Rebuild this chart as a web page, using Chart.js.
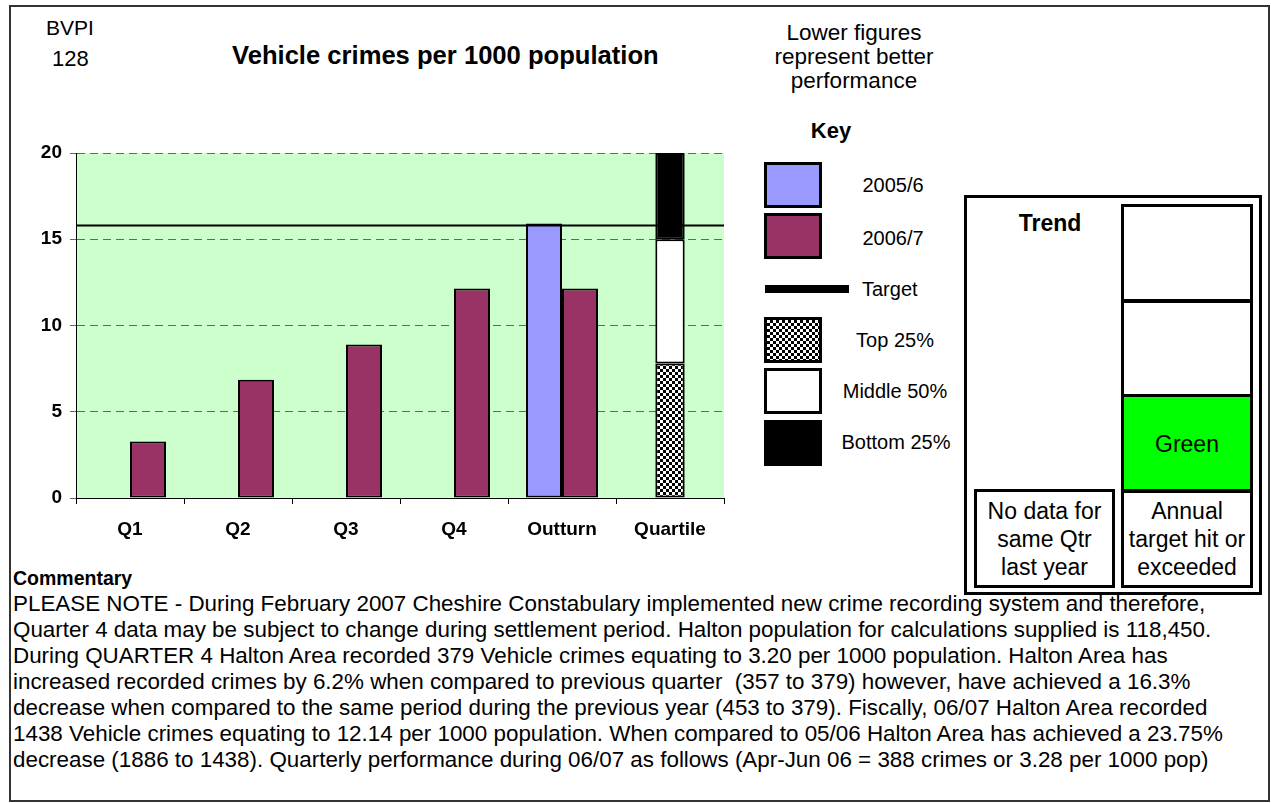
<!DOCTYPE html>
<html>
<head>
<meta charset="utf-8">
<script src="https://cdn.jsdelivr.net/npm/chart.js@4.4.1/dist/chart.umd.min.js"></script>
<style>
  body { margin: 0; background: #fff; font-family: "Liberation Sans", Arial, sans-serif; color: #000; }
  #page { position: relative; width: 1271px; height: 803px; overflow: hidden; }
  #frame { position: absolute; left: 9px; top: 5px; width: 1257px; height: 793px; border: 2px solid #333; }
  .abs { position: absolute; white-space: nowrap; }
  .ctr { text-align: center; }
  .lbl { font-size: 20px; line-height: 24px; }
  #chart-wrap { position: absolute; left: 0; top: 0; width: 740px; height: 560px; }
  .swatch { position: absolute; box-sizing: border-box; border: 3px solid #000; }
  .cell { position: absolute; box-sizing: border-box; border: 3px solid #000; display: flex; align-items: center; justify-content: center; text-align: center; font-size: 23px; line-height: 28px; }
  .comment { position: absolute; left: 13px; font-size: 22.4px; line-height: 26px; white-space: nowrap; }
</style>
</head>
<body>
<div id="page">
  <div id="frame"></div>

  <div class="abs" style="left:46px; top:16px; font-size:21px;">BVPI</div>
  <div class="abs" style="left:52px; top:46px; font-size:22px;">128</div>
  <div class="abs" style="left:232px; top:41px; font-size:25.6px; font-weight:bold;">Vehicle crimes per 1000 population</div>
  <div class="abs ctr" style="left:754px; top:21px; width:200px; font-size:22.5px; line-height:24px; white-space:normal;">Lower figures represent better performance</div>

  <div id="chart-wrap"><canvas id="vehicle-chart" width="740" height="560"></canvas></div>

  <!-- Key -->
  <div class="abs ctr" style="left:791px; top:118px; width:80px; font-size:22px; font-weight:bold;">Key</div>
  <div class="swatch" style="left:764px; top:162px; width:58px; height:46px; background:#9999FF;"></div>
  <div class="abs ctr lbl" style="left:840px; top:173px; width:106px;">2005/6</div>
  <div class="swatch" style="left:764px; top:213px; width:58px; height:46px; background:#993366;"></div>
  <div class="abs ctr lbl" style="left:840px; top:226px; width:106px;">2006/7</div>
  <div class="abs" style="left:765px; top:285px; width:84px; height:8px; background:#000;"></div>
  <div class="abs lbl" style="left:862px; top:277px;">Target</div>
  <div class="swatch" id="key-top" style="left:764px; top:317px; width:58px; height:46px;"></div>
  <div class="abs ctr lbl" style="left:840px; top:328px; width:110px;">Top 25%</div>
  <div class="swatch" style="left:764px; top:368px; width:58px; height:46px; background:#fff;"></div>
  <div class="abs ctr lbl" style="left:840px; top:379px; width:110px;">Middle 50%</div>
  <div class="swatch" style="left:764px; top:420px; width:58px; height:46px; background:#000;"></div>
  <div class="abs ctr lbl" style="left:841px; top:430px; width:110px;">Bottom 25%</div>

  <!-- Trend box -->
  <div class="abs" style="left:964px; top:195px; width:298px; height:400px; box-sizing:border-box; border:3px solid #000;"></div>
  <div class="abs ctr" style="left:990px; top:210px; width:120px; font-size:23px; font-weight:bold;">Trend</div>
  <div class="cell" style="left:1121px; top:204px; width:132px; height:99px;"></div>
  <div class="cell" style="left:1121px; top:299px; width:132px; height:99px;"></div>
  <div class="cell" style="left:1121px; top:394px; width:132px; height:99px; background:#00FF00;">Green</div>
  <div class="cell" style="left:1121px; top:489px; width:132px; height:99px;">Annual<br>target hit or<br>exceeded</div>
  <div class="cell" style="left:974px; top:489px; width:141px; height:99px;">No data for<br>same Qtr<br>last year</div>

  <!-- Commentary -->
  <div class="comment" style="top:565px; font-size:19.5px; font-weight:bold;">Commentary</div>
  <div class="comment" style="top:591px;">PLEASE NOTE - During February 2007 Cheshire Constabulary implemented new crime recording system and therefore,</div>
  <div class="comment" style="top:617px;">Quarter 4 data may be subject to change during settlement period. Halton population for calculations supplied is 118,450.</div>
  <div class="comment" style="top:643px;">During QUARTER 4 Halton Area recorded 379 Vehicle crimes equating to 3.20 per 1000 population. Halton Area has</div>
  <div class="comment" style="top:669px;">increased recorded crimes by 6.2% when compared to previous quarter&nbsp; (357 to 379) however, have achieved a 16.3%</div>
  <div class="comment" style="top:695px;">decrease when compared to the same period during the previous year (453 to 379). Fiscally, 06/07 Halton Area recorded</div>
  <div class="comment" style="top:721px;">1438 Vehicle crimes equating to 12.14 per 1000 population. When compared to 05/06 Halton Area has achieved a 23.75%</div>
  <div class="comment" style="top:747px;">decrease (1886 to 1438). Quarterly performance during 06/07 as follows (Apr-Jun 06 = 388 crimes or 3.28 per 1000 pop)</div>
</div>

<script>
// Chart data
const categories = ['Q1', 'Q2', 'Q3', 'Q4', 'Outturn', 'Quartile'];
const values0506 = [null, null, null, null, 15.92, null];
const values0607 = [3.28, 6.85, 8.9, 12.14, 12.14, null];
const targetValue = 15.8;
// quartile bands as [from, to] ranges, shown only in the last category
const quartileTop = [null, null, null, null, null, [0, 7.8]];
const quartileMiddle = [null, null, null, null, null, [7.8, 15]];
const quartileBottom = [null, null, null, null, null, [15, 20]];
const yTicks = [0, 5, 10, 15, 20];

// checkerboard fill for the top quartile
function makeChecker() {
    const c = document.createElement('canvas');
    c.width = 6;
    c.height = 6;
    const g = c.getContext('2d');
    g.fillStyle = '#000';
    g.fillRect(0, 0, 6, 6);
    g.fillStyle = '#fff';
    g.fillRect(0, 0, 3, 3);
    g.fillRect(3, 3, 3, 3);
    return c;
}
const checkerCanvas = makeChecker();
document.getElementById('key-top').style.background = `url(${checkerCanvas.toDataURL()})`;

const ctx = document.getElementById('vehicle-chart').getContext('2d');
const checker = ctx.createPattern(checkerCanvas, 'repeat');

// green plot background
const plotBackground = {
    id: 'plotBackground',
    beforeDraw(chart) {
        const { ctx, chartArea: a } = chart;
        ctx.save();
        ctx.fillStyle = '#CCFFCC';
        ctx.fillRect(a.left, a.top, a.right - a.left, a.bottom - a.top);
        ctx.restore();
    }
};

// target line across the plot
const targetLine = {
    id: 'targetLine',
    afterDatasetsDraw(chart) {
        const { ctx, chartArea: a, scales } = chart;
        const y = scales.y.getPixelForValue(targetValue);
        ctx.save();
        ctx.strokeStyle = '#000';
        ctx.lineWidth = 2;
        ctx.beginPath();
        ctx.moveTo(a.left, y);
        ctx.lineTo(a.right, y);
        ctx.stroke();
        ctx.restore();
    }
};

const barStyle = { borderColor: '#000', borderWidth: 2, borderSkipped: false };
const quartileStyle = { ...barStyle, grouped: false, barPercentage: 0.34 };
const axisFont = { family: 'Liberation Sans', size: 19, weight: 'bold' };

new Chart(ctx, {
    type: 'bar',
    data: {
        labels: categories,
        datasets: [
            { label: '2005/6', data: values0506, backgroundColor: '#9999FF', ...barStyle, categoryPercentage: 0.667, barPercentage: 1 },
            { label: '2006/7', data: values0607, backgroundColor: '#993366', ...barStyle, categoryPercentage: 0.667, barPercentage: 1 },
            { label: 'Top 25%', data: quartileTop, backgroundColor: checker, ...quartileStyle },
            { label: 'Middle 50%', data: quartileMiddle, backgroundColor: '#fff', ...quartileStyle },
            { label: 'Bottom 25%', data: quartileBottom, backgroundColor: '#000', ...quartileStyle }
        ]
    },
    options: {
        responsive: false,
        animation: false,
        layout: { padding: { left: 0, top: 153, right: 16, bottom: 0 } },
        plugins: {
            legend: { display: false },
            tooltip: { enabled: false }
        },
        scales: {
            x: {
                grid: { offset: true, drawOnChartArea: false, drawTicks: true, tickLength: 6, tickColor: '#000' },
                border: { display: true, color: '#000', width: 1 },
                ticks: { color: '#000', padding: 14, font: axisFont },
                afterFit: (scale) => { scale.height = 62; }
            },
            y: {
                min: 0,
                max: 20,
                afterBuildTicks: (scale) => { scale.ticks = yTicks.map(v => ({ value: v })); },
                grid: { color: '#666', tickLength: 6, tickColor: '#666', tickBorderDash: [] },
                border: { display: true, color: '#000', width: 1, dash: [8, 5] },
                ticks: { color: '#000', padding: 8, font: axisFont },
                afterFit: (scale) => { scale.width = 76; }
            }
        }
    },
    plugins: [plotBackground, targetLine]
});
</script>
</body>
</html>
